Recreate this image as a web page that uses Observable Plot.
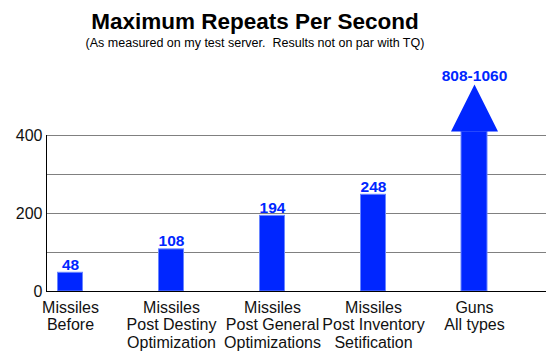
<!DOCTYPE html>
<html>
<head>
<meta charset="utf-8">
<script src="https://cdn.jsdelivr.net/npm/d3@7"></script>
<script src="https://cdn.jsdelivr.net/npm/@observablehq/plot@0.6"></script>
<style>
  html, body { margin: 0; padding: 0; background: #fff; }
  body { width: 560px; height: 355px; overflow: hidden; font-family: "Liberation Sans", Arial, sans-serif; }
  #title { width: 510px; text-align: center; padding-top: 8px; font-size: 22.5px; font-weight: bold; line-height: 27px; color: #000; }
  #subtitle { width: 510px; text-align: center; font-size: 12.5px; line-height: 16px; color: #000; white-space: pre; margin-bottom: 4px; }
  svg { display: block; }
</style>
</head>
<body>
<div id="title">Maximum Repeats Per Second</div>
<div id="subtitle">(As measured on my test server.  Results not on par with TQ)</div>
<div id="chart"></div>
<script>
// ---- data ----
const categories = [
  "Missiles\nBefore",
  "Missiles\nPost Destiny\nOptimization",
  "Missiles\nPost General\nOptimizations",
  "Missiles\nPost Inventory\nSetification",
  "Guns\nAll types"
];
const repeats = [48, 108, 194, 248, null];     // missiles: measured values
const gunsRange = [808, 1060];                  // guns: off-scale range
const yTicks = [0, 200, 400];
const gridValues = [100, 200, 300, 400];
const axisMax = 400;
const arrowCap = 410;                           // guns arrow shaft stops just above axis top

const rows = categories.map((c, i) => ({
  cat: c,
  value: repeats[i] ?? arrowCap,
  label: repeats[i] != null ? String(repeats[i]) : `${gunsRange[0]}-${gunsRange[1]}`,
  offScale: repeats[i] == null
}));
const barsIn = rows.filter(d => !d.offScale);
const barsOff = rows.filter(d => d.offScale);

const blue = "#0026ff";
const edge = "#6a86ff";

const triangleUp = {
  draw(ctx, size) {
    const r = Math.sqrt(size / Math.PI);
    ctx.moveTo(-r, 0);
    ctx.lineTo(0, -2 * r);
    ctx.lineTo(r, 0);
    ctx.closePath();
  }
};

const chart = Plot.plot({
  width: 560,
  height: 300,
  marginLeft: 46,
  marginRight: 14,
  marginTop: 80,
  marginBottom: 64,
  style: { fontFamily: "'Liberation Sans', Arial, sans-serif", fontSize: "16px", background: "#fff", color: "#000" },
  x: { type: "band", domain: categories, range: [19.5, 524.5], padding: 0, round: false },
  y: { domain: [0, axisMax] },
  marks: [
    Plot.ruleY(gridValues, { stroke: "#808080", strokeWidth: 1 }),
    Plot.frame({ anchor: "left", stroke: "#000" }),
    Plot.barY(barsIn, { x: "cat", y: "value", fill: blue, stroke: edge, strokeWidth: 1, insetLeft: 38, insetRight: 38 }),
    Plot.barY(barsOff, { x: "cat", y: "value", fill: blue, stroke: edge, strokeWidth: 1, insetLeft: 37.5, insetRight: 37.5 }),
    Plot.dot(barsOff, { x: "cat", y: "value", symbol: triangleUp, r: 23.5, fill: blue, stroke: "none" }),
    Plot.ruleY([0], { stroke: "#000", strokeWidth: 1 }),
    Plot.text(barsIn, { x: "cat", y: "value", text: "label", lineAnchor: "bottom", dy: -3, fill: blue, fontWeight: "bold", fontSize: 15.5 }),
    Plot.text(barsOff, { x: "cat", y: "value", text: "label", lineAnchor: "bottom", dy: -51, fill: blue, fontWeight: "bold", fontSize: 15.5 }),
    Plot.axisY(yTicks, { tickSize: 0, tickPadding: 4, fontSize: 16, label: null, fill: "#111" }),
    Plot.axisX({ tickSize: 0, tickPadding: 9, fontSize: 16, lineHeight: 1.09, label: null, fill: "#111" })
  ]
});
document.getElementById("chart").appendChild(chart);
</script>
</body>
</html>
